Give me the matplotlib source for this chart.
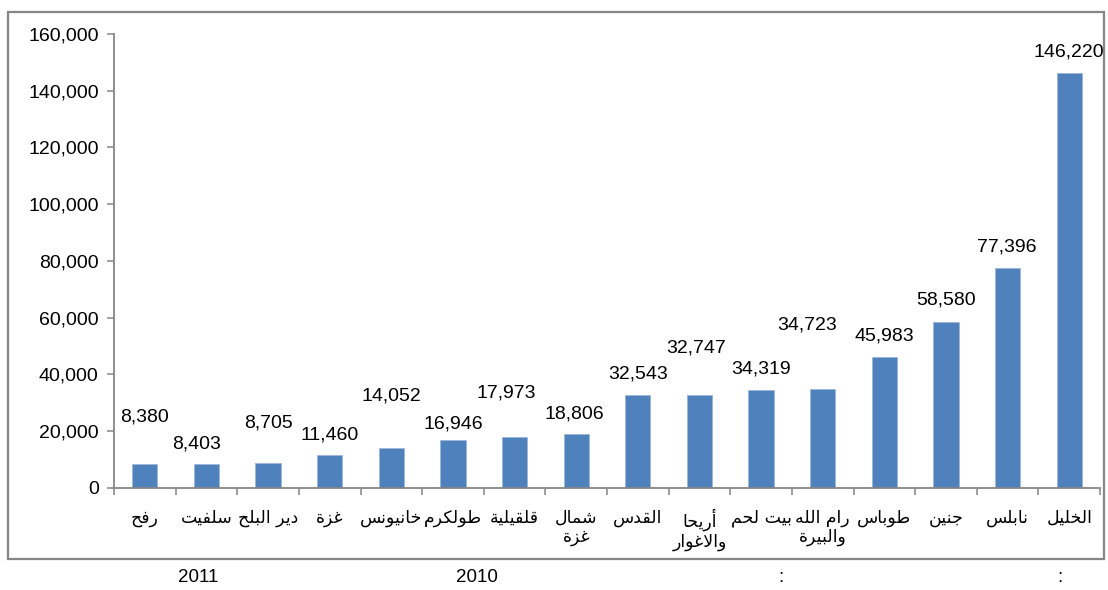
import matplotlib
matplotlib.use("Agg")
import matplotlib.pyplot as plt
from matplotlib.patches import Rectangle
from matplotlib.ticker import FuncFormatter

# ---------------- data ----------------
categories = ["رفح", "سلفيت", "دير البلح", "غزة", "خانيونس", "طولكرم", "قلقيلية",
              "شمال\nغزة", "القدس", "أريحا\nوالاغوار", "بيت لحم", "رام الله\nوالبيرة",
              "طوباس", "جنين", "نابلس", "الخليل"]
values = [8380, 8403, 8705, 11460, 14052, 16946, 17973, 18806,
          32543, 32747, 34319, 34723, 45983, 58580, 77396, 146220]
y_ticks = [0, 20000, 40000, 60000, 80000, 100000, 120000, 140000, 160000]
footer_texts = ["2011", "2010", ":", ":"]

# layout of the value labels (pixel offsets from bar top, as in the original)
label_dx_px = [0, -10, 0, 0, 0, 0, -8, -2, 0, -3, 0, -16, 0, 0, -1, 0]
label_dy_px = [47, 20, 40, 20, 52, 16, 44, 20, 21, 47, 21, 64, 21, 22, 21, 21]
footer_x_px = [198, 477, 781, 1060]

# ------------- minimal Arabic shaping for display -------------
FORMS = {
    '\u0627': (0xFE8D, 0xFE8E, None, None),
    '\u0623': (0xFE83, 0xFE84, None, None),
    '\u0628': (0xFE8F, 0xFE90, 0xFE91, 0xFE92),
    '\u0629': (0xFE93, 0xFE94, None, None),
    '\u062A': (0xFE95, 0xFE96, 0xFE97, 0xFE98),
    '\u062C': (0xFE9D, 0xFE9E, 0xFE9F, 0xFEA0),
    '\u062D': (0xFEA1, 0xFEA2, 0xFEA3, 0xFEA4),
    '\u062E': (0xFEA5, 0xFEA6, 0xFEA7, 0xFEA8),
    '\u062F': (0xFEA9, 0xFEAA, None, None),
    '\u0631': (0xFEAD, 0xFEAE, None, None),
    '\u0632': (0xFEAF, 0xFEB0, None, None),
    '\u0633': (0xFEB1, 0xFEB2, 0xFEB3, 0xFEB4),
    '\u0634': (0xFEB5, 0xFEB6, 0xFEB7, 0xFEB8),
    '\u0637': (0xFEC1, 0xFEC2, 0xFEC3, 0xFEC4),
    '\u063A': (0xFECD, 0xFECE, 0xFECF, 0xFED0),
    '\u0641': (0xFED1, 0xFED2, 0xFED3, 0xFED4),
    '\u0642': (0xFED5, 0xFED6, 0xFED7, 0xFED8),
    '\u0643': (0xFED9, 0xFEDA, 0xFEDB, 0xFEDC),
    '\u0644': (0xFEDD, 0xFEDE, 0xFEDF, 0xFEE0),
    '\u0645': (0xFEE1, 0xFEE2, 0xFEE3, 0xFEE4),
    '\u0646': (0xFEE5, 0xFEE6, 0xFEE7, 0xFEE8),
    '\u0647': (0xFEE9, 0xFEEA, 0xFEEB, 0xFEEC),
    '\u0648': (0xFEED, 0xFEEE, None, None),
    '\u064A': (0xFEF1, 0xFEF2, 0xFEF3, 0xFEF4),
}
LAM_ALEF = {'\u0627': (0xFEFB, 0xFEFC), '\u0623': (0xFEF7, 0xFEF8)}


def dual(c):
    return c in FORMS and FORMS[c][2] is not None


def shape_line(s):
    out = []
    i = 0
    n = len(s)
    while i < n:
        c = s[i]
        if c not in FORMS:
            out.append(c)
            i += 1
            continue
        prev = s[i - 1] if i > 0 else ''
        joins_prev = dual(prev)
        if c == '\u0644' and i + 1 < n and s[i + 1] in LAM_ALEF:
            iso, fin = LAM_ALEF[s[i + 1]]
            out.append(chr(fin if joins_prev else iso))
            i += 2
            continue
        nxt = s[i + 1] if i + 1 < n else ''
        joins_next = dual(c) and nxt in FORMS
        iso, fin, ini, med = FORMS[c]
        if joins_prev and joins_next:
            g = med
        elif joins_prev:
            g = fin
        elif joins_next:
            g = ini
        else:
            g = iso
        out.append(chr(g))
        i += 1
    return ''.join(reversed(out))


def shape(s):
    return '\n'.join(shape_line(l) for l in s.split('\n'))


# ---------------- plot ----------------
W, H, DPI = 1108, 590, 100
plt.rcParams['font.family'] = ['Liberation Sans', 'DejaVu Sans']
fig = plt.figure(figsize=(W / DPI, H / DPI), dpi=DPI)
ax = fig.add_axes([114 / W, 1 - 487.7 / H, (1100 - 114) / W, (487.7 - 34) / H])

grey = '#868686'
bar_color = '#4F81BD'
x = list(range(len(values)))
ax.bar(x, values, width=0.41, color=bar_color, edgecolor='#9DB7DA', linewidth=0.6, zorder=2)

ax.set_xlim(-0.5, len(values) - 0.5)
ax.set_ylim(0, 160000)
ax.set_yticks(y_ticks)
ax.yaxis.set_major_formatter(FuncFormatter(lambda v, p: f"{int(v):,}"))

for s in ['top', 'right']:
    ax.spines[s].set_visible(False)
for s in ['left', 'bottom']:
    ax.spines[s].set_color(grey)
    ax.spines[s].set_linewidth(1.3)

ax.tick_params(axis='y', direction='out', length=5, width=1.1, color=grey,
               labelsize=14, pad=6, labelcolor='black')
ax.set_xticks(x)
ax.set_xticklabels([shape(c) for c in categories], fontsize=12.5,
                   family=['DejaVu Sans'], linespacing=1.1, va='top')
ax.tick_params(axis='x', which='major', length=0, pad=15)
ax.set_xticks([i + 0.5 for i in range(-1, len(values))], minor=True)
ax.tick_params(axis='x', which='minor', direction='out', length=5, width=1.1, color=grey)

# value labels
for i, v in enumerate(values):
    ax.annotate(f"{v:,}", xy=(i, v), xytext=(label_dx_px[i] * 0.72, label_dy_px[i] * 0.72),
                textcoords='offset points', ha='center', va='center', fontsize=14,
                color='black')

# outer border
fig.patches.append(Rectangle((8 / W, 1 - 559 / H), (1104 - 8) / W, (559 - 12) / H,
                             transform=fig.transFigure, fill=False,
                             edgecolor=grey, linewidth=1.6))

# footer
for t, fx in zip(footer_texts, footer_x_px):
    fig.text(fx / W, 1 - 578 / H, t, ha='center', va='center', fontsize=13.5,
             family=['Liberation Sans Narrow', 'Liberation Sans', 'DejaVu Sans'])

fig.savefig('out.png', dpi=DPI)
